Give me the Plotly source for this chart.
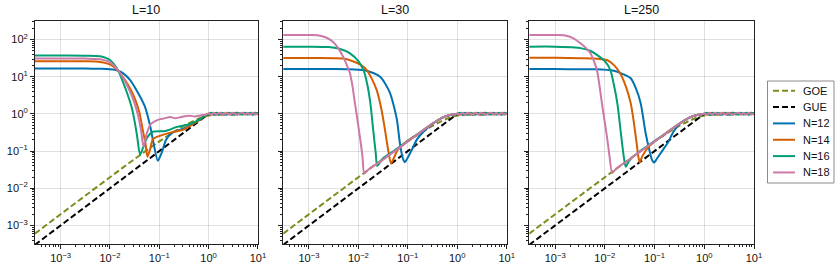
import plotly.graph_objects as go

# ---------------- data ----------------
panel_titles = ["L=10", "L=30", "L=250"]
series_names = ["N=12", "N=14", "N=16", "N=18"]
series_colors = ["#0072B2", "#D55E00", "#009E73", "#CC79A7"]
legend_labels = ["GOE", "GUE", "N=12", "N=14", "N=16", "N=18"]

x_tickvals = [1e-3, 1e-2, 1e-1, 1, 10]
x_ticktext = ["10<sup>−3</sup>", "10<sup>−2</sup>", "10<sup>−1</sup>", "10<sup>0</sup>", "10<sup>1</sup>"]
y_tickvals = [1e-3, 1e-2, 1e-1, 1, 10, 100]
y_ticktext = ["10<sup>−3</sup>", "10<sup>−2</sup>", "10<sup>−1</sup>", "10<sup>0</sup>", "10<sup>1</sup>", "10<sup>2</sup>"]

# reference random-matrix curves
t_goe = [3.0e-4, 1e-3, 3e-3, 0.01, 0.03, 0.1, 0.2, 0.3, 0.5, 0.7, 1.0, 1.5, 2.0, 3.0, 5.0, 10.0]
K_goe = [6.0e-4, 2.0e-3, 0.006, 0.0198, 0.0583, 0.1818, 0.3327, 0.459, 0.653, 0.787, 0.901, 0.960, 0.978, 0.9906, 0.9967, 0.9992]
t_gue = [3.0e-4, 1.0, 10.0]
K_gue = [3.0e-4, 1.0, 1.0]

# late-time plateau (common times) and noisy values per N
t_plateau = [1.0, 1.13, 1.27, 1.44, 1.62, 1.83, 2.07, 2.34, 2.64, 2.98, 3.36, 3.79, 4.28, 4.83, 5.46, 6.16, 6.95, 7.85, 8.86, 10.0]
K_plateau_N12 = [1.00, 1.06, 0.95, 1.07, 0.98, 1.05, 0.94, 1.08, 1.01, 0.96, 1.07, 0.95, 1.06, 0.99, 1.08, 0.96, 1.05, 0.95, 1.07, 1.01]
K_plateau_N14 = [1.01, 0.95, 1.07, 0.98, 1.06, 0.94, 1.05, 0.99, 1.08, 0.95, 1.03, 1.07, 0.96, 1.06, 0.95, 1.05, 0.99, 1.08, 0.96, 1.03]
K_plateau_N16 = [0.99, 1.07, 0.96, 1.05, 0.94, 1.07, 1.00, 0.95, 1.06, 1.02, 0.94, 1.07, 1.01, 0.95, 1.06, 0.98, 1.07, 0.96, 1.03, 1.06]
K_plateau_N18 = [1.02, 0.96, 1.06, 0.95, 1.07, 1.01, 0.96, 1.06, 0.95, 1.07, 1.00, 0.96, 1.05, 1.08, 0.98, 1.05, 0.95, 1.06, 1.01, 0.98]

# ---- L = 10 ----
t_L10_N12 = [3.0e-4, 1e-3, 3.16e-3, 6.31e-3, 0.01, 0.0145, 0.0186, 0.0257, 0.0324, 0.0407, 0.0513, 0.0646, 0.0776, 0.0933, 0.1135, 0.1365, 0.182, 0.251, 0.331, 0.5, 0.676, 0.871]
K_L10_N12 = [16.6, 16.6, 16.6, 16.4, 16.0, 14.8, 12.3, 8.13, 5.01, 2.95, 1.55, 0.501, 0.148, 0.055, 0.0955, 0.2, 0.309, 0.363, 0.417, 0.562, 0.724, 0.933]
t_L10_N14 = [3.0e-4, 1e-3, 3.16e-3, 6.31e-3, 0.01, 0.0145, 0.02, 0.0263, 0.0331, 0.0398, 0.0457, 0.0525, 0.0575, 0.0646, 0.0741, 0.0891, 0.126, 0.2, 0.302, 0.447, 0.676, 0.871]
K_L10_N14 = [26.1, 26.1, 26.0, 25.1, 21.4, 14.5, 8.32, 4.57, 2.29, 1.047, 0.398, 0.158, 0.0708, 0.107, 0.209, 0.24, 0.282, 0.331, 0.372, 0.501, 0.708, 0.933]
t_L10_N16 = [3.0e-4, 1e-3, 3.16e-3, 6.31e-3, 0.01, 0.0145, 0.0178, 0.0224, 0.0275, 0.0316, 0.0355, 0.0407, 0.0468, 0.0562, 0.0741, 0.132, 0.229, 0.417, 0.676, 0.871]
K_L10_N16 = [37.2, 37.2, 37.0, 35.5, 28.2, 15.1, 7.94, 3.55, 1.51, 0.631, 0.251, 0.0794, 0.123, 0.224, 0.331, 0.347, 0.447, 0.537, 0.724, 0.933]
t_L10_N18 = [3.0e-4, 1e-3, 3.16e-3, 6.31e-3, 0.01, 0.0145, 0.0191, 0.0251, 0.0316, 0.0372, 0.0427, 0.0479, 0.0562, 0.0676, 0.0933, 0.126, 0.166, 0.209, 0.263, 0.331, 0.417, 0.525, 0.676, 0.871]
K_L10_N18 = [30.9, 30.9, 30.8, 29.5, 24.5, 15.1, 8.51, 4.17, 1.905, 0.891, 0.355, 0.132, 0.309, 0.537, 0.692, 0.759, 0.832, 0.759, 0.813, 0.871, 0.891, 0.851, 0.912, 0.955]

# ---- L = 30 ----
t_L30_N12 = [3.0e-4, 1e-3, 3.16e-3, 6.31e-3, 0.0126, 0.02, 0.0275, 0.0347, 0.0437, 0.0513, 0.0603, 0.0692, 0.0794, 0.0871, 0.102, 0.12, 0.151, 0.2, 0.316, 0.501, 0.708, 0.891]
K_L30_N12 = [16.2, 16.2, 16.2, 16.0, 15.1, 12.6, 10.0, 6.61, 3.63, 1.778, 0.692, 0.162, 0.0631, 0.0501, 0.0708, 0.107, 0.2, 0.316, 0.537, 0.794, 0.933, 0.977]
t_L30_N14 = [3.0e-4, 1e-3, 3.16e-3, 5.01e-3, 7.94e-3, 0.0112, 0.0148, 0.0186, 0.0234, 0.0295, 0.0347, 0.0398, 0.0457, 0.0525, 0.0603, 0.0708, 0.1, 0.158, 0.224, 0.316, 0.501, 0.708, 0.891]
K_L30_N14 = [32.0, 32.0, 31.6, 30.9, 25.7, 20.9, 15.1, 8.91, 4.42, 1.259, 0.355, 0.112, 0.0468, 0.0661, 0.1, 0.129, 0.191, 0.288, 0.398, 0.55, 0.794, 0.933, 0.977]
t_L30_N16 = [3.0e-4, 1e-3, 2.51e-3, 3.98e-3, 6.76e-3, 0.01, 0.0129, 0.0151, 0.0174, 0.02, 0.0224, 0.024, 0.0275, 0.0316, 0.0398, 0.0501, 0.0708, 0.1, 0.158, 0.224, 0.316, 0.501, 0.708, 0.891]
K_L30_N16 = [64.6, 64.6, 63.1, 57.5, 42.7, 26.3, 14.1, 6.31, 2.0, 0.355, 0.0891, 0.0398, 0.0501, 0.0646, 0.0794, 0.0977, 0.135, 0.186, 0.282, 0.398, 0.55, 0.794, 0.933, 0.977]
t_L30_N18 = [3.0e-4, 1e-3, 1.585e-3, 2.29e-3, 3.16e-3, 3.98e-3, 4.9e-3, 5.75e-3, 6.76e-3, 7.59e-3, 8.51e-3, 9.55e-3, 0.0107, 0.012, 0.0132, 0.0158, 0.02, 0.0275, 0.0398, 0.0631, 0.1, 0.158, 0.224, 0.316, 0.501, 0.708, 0.891]
K_L30_N18 = [132, 132, 129, 112, 83.2, 56.2, 34.7, 21.4, 12.3, 5.62, 1.95, 0.708, 0.245, 0.0794, 0.0251, 0.0316, 0.0398, 0.0513, 0.0741, 0.115, 0.182, 0.282, 0.398, 0.55, 0.794, 0.933, 0.977]

# ---- L = 250 ----
t_L250_N12 = [3.0e-4, 1e-3, 3.24e-3, 6.31e-3, 0.0151, 0.0224, 0.0331, 0.0417, 0.0525, 0.0661, 0.0794, 0.0891, 0.0977, 0.112, 0.132, 0.155, 0.182, 0.24, 0.316, 0.501, 0.708, 0.891]
K_L250_N12 = [16.2, 16.2, 15.8, 15.8, 14.5, 12.0, 9.12, 5.01, 1.95, 0.302, 0.1, 0.0575, 0.049, 0.0631, 0.0871, 0.12, 0.162, 0.331, 0.537, 0.794, 0.933, 0.977]
t_L250_N14 = [3.0e-4, 1e-3, 3.24e-3, 6.31e-3, 0.011, 0.0151, 0.0204, 0.0263, 0.0331, 0.038, 0.0427, 0.0468, 0.0501, 0.0562, 0.0661, 0.0794, 0.1, 0.158, 0.224, 0.316, 0.501, 0.708, 0.891]
K_L250_N14 = [32.4, 32.4, 31.6, 30.9, 28.2, 20.9, 12.3, 5.62, 1.95, 0.631, 0.2, 0.0759, 0.0501, 0.0708, 0.102, 0.138, 0.182, 0.282, 0.398, 0.55, 0.794, 0.933, 0.977]
t_L250_N16 = [3.0e-4, 1e-3, 2.51e-3, 3.24e-3, 5.01e-3, 6.92e-3, 0.01, 0.0129, 0.0151, 0.0178, 0.0214, 0.024, 0.0263, 0.0302, 0.0355, 0.0501, 0.0708, 0.1, 0.158, 0.224, 0.316, 0.501, 0.708, 0.891]
K_L250_N16 = [64.6, 64.6, 61.7, 58.9, 50.1, 38.9, 26.3, 15.1, 6.31, 1.95, 0.245, 0.0708, 0.038, 0.0525, 0.0676, 0.0977, 0.135, 0.186, 0.282, 0.398, 0.55, 0.794, 0.933, 0.977]
t_L250_N18 = [3.0e-4, 1e-3, 1.585e-3, 2.29e-3, 3.24e-3, 4.17e-3, 5.13e-3, 6.03e-3, 6.92e-3, 7.76e-3, 8.71e-3, 9.77e-3, 0.011, 0.0123, 0.0141, 0.0166, 0.02, 0.0275, 0.0398, 0.0631, 0.1, 0.158, 0.224, 0.316, 0.501, 0.708, 0.891]
K_L250_N18 = [132, 132, 129, 110, 79.4, 58.9, 42.7, 26.3, 15.1, 6.03, 1.95, 0.708, 0.245, 0.0794, 0.0257, 0.0331, 0.0398, 0.0525, 0.0759, 0.117, 0.182, 0.282, 0.398, 0.55, 0.794, 0.933, 0.977]

panels = [
    [(t_L10_N12, K_L10_N12), (t_L10_N14, K_L10_N14), (t_L10_N16, K_L10_N16), (t_L10_N18, K_L10_N18)],
    [(t_L30_N12, K_L30_N12), (t_L30_N14, K_L30_N14), (t_L30_N16, K_L30_N16), (t_L30_N18, K_L30_N18)],
    [(t_L250_N12, K_L250_N12), (t_L250_N14, K_L250_N14), (t_L250_N16, K_L250_N16), (t_L250_N18, K_L250_N18)],
]
plateaus = [K_plateau_N12, K_plateau_N14, K_plateau_N16, K_plateau_N18]

# ---------------- figure ----------------
FONT = "Liberation Sans, Arial, sans-serif"
W, H = 840, 272
ML, MR, MT, MB = 35, 86, 21, 28
PW, PH = W - ML - MR, H - MT - MB
domains = [[0.0, 0.3101], [0.3453, 0.6560], [0.6875, 1.0]]
GOE_COLOR = "#7f8c1c"
DASH = "6px,3px"

fig = go.Figure()
for p in range(3):
    xa = "x" if p == 0 else f"x{p+1}"
    ya = "y" if p == 0 else f"y{p+1}"
    fig.add_trace(go.Scatter(x=t_goe, y=K_goe, mode="lines", name="GOE", showlegend=False,
                             xaxis=xa, yaxis=ya,
                             line=dict(color=GOE_COLOR, width=2, dash=DASH, shape="spline")))
    fig.add_trace(go.Scatter(x=t_gue, y=K_gue, mode="lines", name="GUE", showlegend=False,
                             xaxis=xa, yaxis=ya,
                             line=dict(color="black", width=2, dash=DASH)))
    for i, (tt, kk) in enumerate(panels[p]):
        fig.add_trace(go.Scatter(x=tt + t_plateau, y=kk + plateaus[i], mode="lines",
                                 name=series_names[i], showlegend=False, xaxis=xa, yaxis=ya,
                                 line=dict(color=series_colors[i], width=2, shape="spline", smoothing=0.7)))

minor_vals = [k * 10.0 ** n for n in range(-4, 3) for k in range(2, 10)]
axis_common = dict(type="log", showline=True, mirror=True, linecolor="#222", linewidth=1,
                   ticks="outside", ticklen=4, tickwidth=1, tickcolor="#222", automargin=False,
                   showgrid=True, gridcolor="rgba(0,0,0,0.12)", gridwidth=1, zeroline=False,
                   tickfont=dict(family=FONT, size=11, color="#111"),
                   minor=dict(tickmode="array", tickvals=minor_vals, ticks="outside",
                              ticklen=2, tickwidth=1, tickcolor="#222", showgrid=False))

layout = dict(
    width=W, height=H,
    margin=dict(l=ML, r=MR, t=MT, b=MB, autoexpand=False),
    paper_bgcolor="white", plot_bgcolor="white",
    font=dict(family=FONT, size=11, color="#111"),
    showlegend=False,
)
annotations = []
shapes = []
for p in range(3):
    xkey = "xaxis" if p == 0 else f"xaxis{p+1}"
    ykey = "yaxis" if p == 0 else f"yaxis{p+1}"
    ya = "y" if p == 0 else f"y{p+1}"
    xa = "x" if p == 0 else f"x{p+1}"
    layout[xkey] = dict(axis_common, domain=domains[p], range=[-3.52, 1.0], anchor=ya,
                        tickmode="array", tickvals=x_tickvals, ticktext=x_ticktext)
    layout[ykey] = dict(axis_common, domain=[0, 1], range=[-3.5, 2.5], anchor=xa,
                        tickmode="array", tickvals=y_tickvals, ticktext=y_ticktext,
                        showticklabels=(p == 0))
    annotations.append(dict(text=panel_titles[p], x=(domains[p][0] + domains[p][1]) / 2, y=1.0,
                            xref="paper", yref="paper", xanchor="center", yanchor="bottom",
                            yshift=2, showarrow=False,
                            font=dict(family=FONT, size=12.5, color="#111")))

# legend box placed from pixel positions
def px_x(px):
    return (px - ML) / PW

def px_y(py):
    return 1 - (py - MT) / PH

shapes.append(dict(type="rect", xref="paper", yref="paper",
                   x0=px_x(767.5), x1=px_x(834), y0=px_y(183), y1=px_y(81),
                   line=dict(color="#8a8a8a", width=1), fillcolor="white", layer="below"))
legend_colors = [GOE_COLOR, "black"] + series_colors
legend_dashes = [DASH, DASH, "solid", "solid", "solid", "solid"]
for j, lab in enumerate(legend_labels):
    yy = 90.7 + 16.35 * j
    shapes.append(dict(type="line", xref="paper", yref="paper",
                       x0=px_x(773), x1=px_x(795), y0=px_y(yy), y1=px_y(yy),
                       line=dict(color=legend_colors[j], width=2, dash=legend_dashes[j]), layer="above"))
    annotations.append(dict(text=lab, x=px_x(801), y=px_y(yy), xref="paper", yref="paper",
                            xanchor="left", yanchor="middle", showarrow=False,
                            font=dict(family=FONT, size=11, color="#111")))

layout["annotations"] = annotations
layout["shapes"] = shapes
fig.update_layout(**layout)

# remove the default page margin so the 840x272 figure sits exactly in the window
fig.write_html("out.html", config={"displayModeBar": False},
               post_script="document.body.style.margin='0';document.body.style.overflow='hidden';")
